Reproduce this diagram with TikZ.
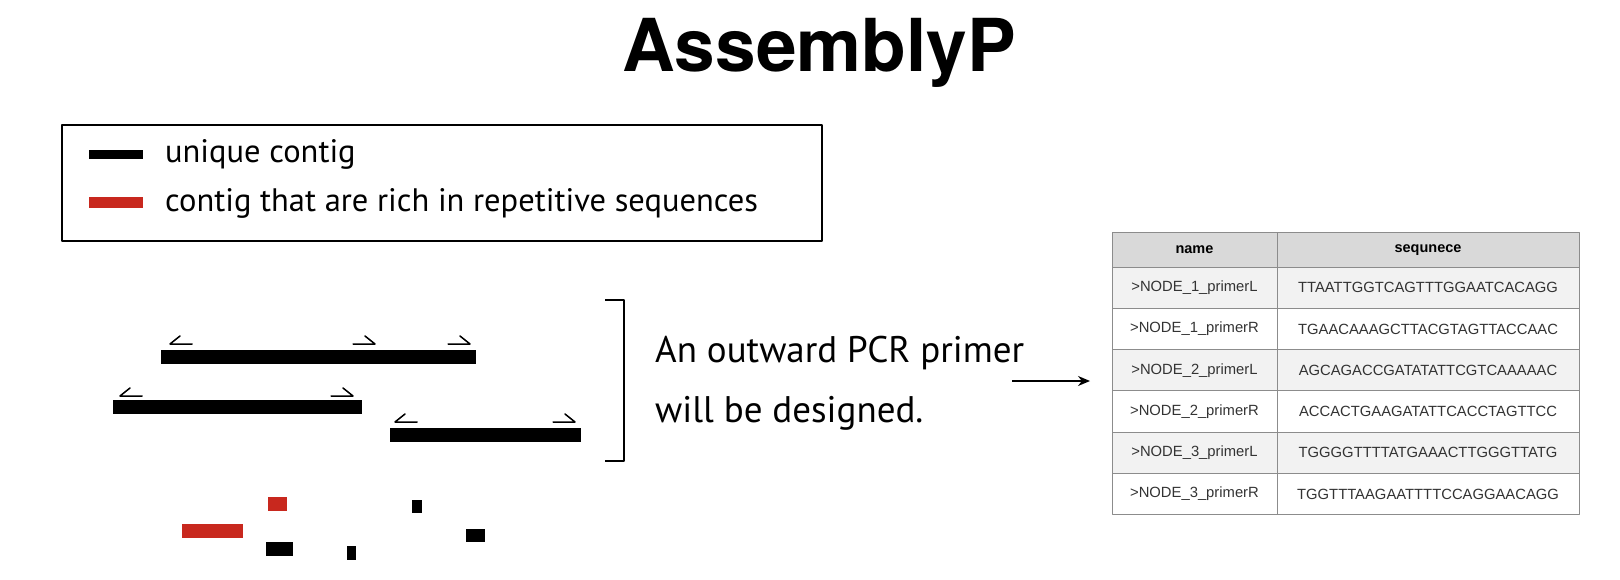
\documentclass[tikz,border=0pt]{standalone}
\usepackage{fontspec}
\setmainfont{PT Sans}
\newfontfamily\titlefont{TeX Gyre Heros}
\newfontfamily\tablefont{Liberation Sans}
\usetikzlibrary{arrows.meta}
\definecolor{repred}{HTML}{C8281E}
\definecolor{headgray}{HTML}{D9D9D9}
\definecolor{rowgray}{HTML}{F2F2F2}
\definecolor{gridgray}{HTML}{8C8C8C}
\definecolor{celltext}{HTML}{333333}
\tikzset{
	contig/.style={fill=black},
	repcontig/.style={fill=repred},
	primer/.style={line width=1.5pt, line cap=round},
	legendtext/.style={anchor=base west, inner sep=0pt, font=\fontsize{32.5}{36}\selectfont},
	notetext/.style={anchor=base west, inner sep=0pt, font=\fontsize{37}{40}\selectfont},
	cell/.style={inner sep=0pt, text=celltext, font=\tablefont\fontsize{14.8}{17}\selectfont},
	headcell/.style={cell, text=black, font=\tablefont\bfseries\fontsize{14.5}{17}\selectfont},
}
\begin{document}
\begin{tikzpicture}[x=1pt,y=-1pt,>=Stealth, line join=round]
	\useasboundingbox (0,0) rectangle (1620,580);
	\def\tl{1112} \def\tm{1277} \def\tr{1579}% table columns
	\def\ttop{233} \def\thead{267} \def\trow{41.3}
	% title
	\node[anchor=base, inner sep=0pt, font=\titlefont\bfseries\fontsize{73}{78}\selectfont] (title) at (819,72) {AssemblyP};
	% legend
	\draw[line width=2.5pt] (62,125) rectangle (822,241);
	\fill[contig] (89,150) rectangle (143,159);
	\fill[repcontig] (89,197) rectangle (143,208);
	\node[legendtext] (uniq) at (165,163) {unique contig};
	\node[legendtext] (rich) at (165,212) {contig that are rich in repetitive sequences};
	% contigs
	\foreach \xa/\ya/\xb/\yb in {161/350/476/364, 113/400/362/414, 390/428/581/442}
	\fill[contig] (\xa,\ya) rectangle (\xb,\yb);
	\foreach \xa/\ya/\xb/\yb in {268/497/287/511, 182/524/243/538}
	\fill[repcontig] (\xa,\ya) rectangle (\xb,\yb);
	\foreach \xa/\ya/\xb/\yb in {266/542/293/556, 347/546/356/560, 412/500/422/513, 466/529/485/542}
	\fill[contig] (\xa,\ya) rectangle (\xb,\yb);
	% primers
	\foreach \xa/\xb/\y in {170/192/344, 120/142/396, 395/417/422}
	\draw[primer] (\xb,\y)--(\xa,\y)--(\xa+10,\y-8);
	\foreach \xa/\xb/\y in {353/375/344, 448/470/344, 331/353/396, 553/575/422}
	\draw[primer] (\xa,\y)--(\xb,\y)--(\xb-10,\y-8);
	% bracket and note
	\draw[line width=1.4pt] (605,300)--(624,300)--(624,461)--(605,461);
	\node[notetext] (pcr) at (655,362) {An outward PCR primer};
	\node[notetext] (will) at (655,422) {will be designed.};
	\coordinate (arrS) at (1012,381);
	\coordinate (arrE) at (1090,381);
	\draw[->, line width=1.4pt, >={Stealth[length=12pt,width=10pt]}] (arrS)--(arrE);
	% table
	\fill[headgray] (\tl,\ttop) rectangle (\tr,\thead);
	\foreach \i in {1,3,5}
	\fill[rowgray] (\tl,\thead+\trow*\i-\trow) rectangle (\tr,\thead+\trow*\i);
	\foreach \i in {0,...,5}
	\draw[gridgray, line width=1pt] (\tl,\thead+\trow*\i)--(\tr,\thead+\trow*\i);
	\draw[gridgray, line width=1pt] (\tl,\ttop) rectangle (\tr,\thead+\trow*6);
	\draw[gridgray, line width=1pt] (\tm,\ttop)--(\tm,\thead+\trow*6);
	\node[headcell] (hname) at ({(\tl+\tm)/2},{(\ttop+\thead)/2}) {name};
	\node[headcell] (hseq) at ({(\tm+\tr)/2},{(\ttop+\thead)/2}) {sequnece};
	\foreach \i/\k/\lr/\sq in {1/1/L/TTAATTGGTCAGTTTGGAATCACAGG, 2/1/R/TGAACAAAGCTTACGTAGTTACCAAC, 3/2/L/AGCAGACCGATATATTCGTCAAAAAC, 4/2/R/ACCACTGAAGATATTCACCTAGTTCC, 5/3/L/TGGGGTTTTATGAAACTTGGGTTATG, 6/3/R/TGGTTTAAGAATTTTCCAGGAACAGG}{
		\node[cell] (n\i) at ({(\tl+\tm)/2},{\thead+\trow*\i-\trow/2}) {>NODE\_\k\_primer\lr};
		\node[cell] (s\i) at ({(\tm+\tr)/2},{\thead+\trow*\i-\trow/2}) {\sq};
	}
\end{tikzpicture}
\end{document}
